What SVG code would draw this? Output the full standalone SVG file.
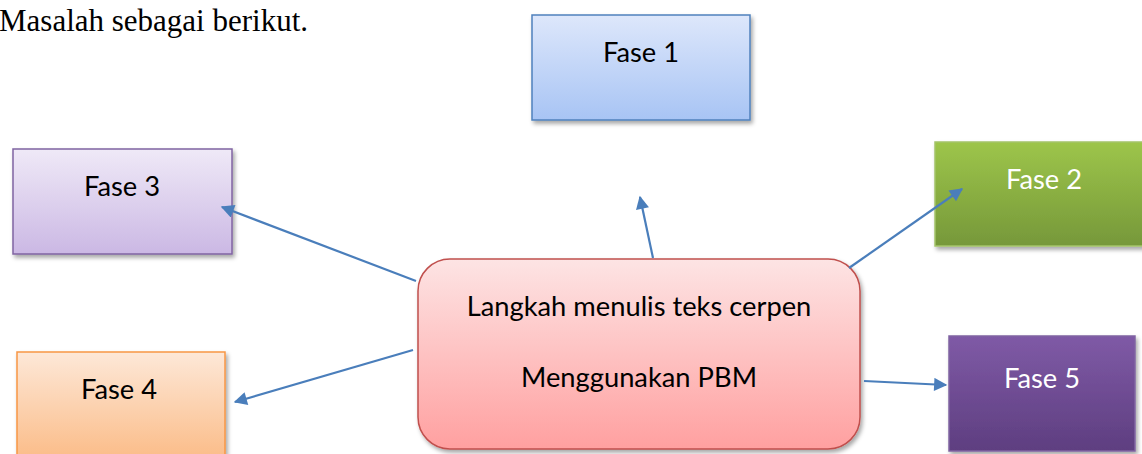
<svg xmlns="http://www.w3.org/2000/svg" width="1142" height="454" viewBox="0 0 1142 454">
<defs>
<style>
.lbl{font-family:Lato,"Open Sans","Liberation Sans",sans-serif;font-size:27.3px;text-anchor:middle}
.conn{stroke:#4a7ebb;stroke-width:2.2;fill:none;marker-end:url(#ah)}
</style>
<marker id="ah" viewBox="0 0 10 10" refX="9" refY="5" markerWidth="7" markerHeight="6" orient="auto" markerUnits="strokeWidth">
<path d="M0,0 L10,5 L0,10 z" fill="#4a7ebb"/>
</marker>
<filter id="sh" x="-10%" y="-10%" width="130%" height="130%">
<feDropShadow dx="2" dy="3" stdDeviation="2" flood-color="#000" flood-opacity="0.35"/>
</filter>
<linearGradient id="g1" x1="0" y1="0" x2="0" y2="1"><stop offset="0" stop-color="#dde7fb"/><stop offset="1" stop-color="#a8c4f4"/></linearGradient>
<linearGradient id="g2" x1="0" y1="0" x2="0" y2="1"><stop offset="0" stop-color="#9dc54a"/><stop offset="1" stop-color="#76983a"/></linearGradient>
<linearGradient id="g3" x1="0" y1="0" x2="0" y2="1"><stop offset="0" stop-color="#efe9f7"/><stop offset="1" stop-color="#cbb8e4"/></linearGradient>
<linearGradient id="g4" x1="0" y1="0" x2="0" y2="1"><stop offset="0" stop-color="#fde8d8"/><stop offset="1" stop-color="#fbbb86"/></linearGradient>
<linearGradient id="g5" x1="0" y1="0" x2="0" y2="1"><stop offset="0" stop-color="#7f5aa6"/><stop offset="1" stop-color="#5e3e80"/></linearGradient>
<linearGradient id="gc" x1="0" y1="0" x2="0" y2="1"><stop offset="0" stop-color="#fde4e4"/><stop offset="1" stop-color="#ffa0a0"/></linearGradient>
</defs>
<rect width="1142" height="454" fill="#fff"/>
<text x="-1" y="31" font-family="'Liberation Serif',serif" font-size="31" fill="#000">Masalah sebagai berikut.</text>

<g id="fase1">
<rect x="532" y="15" width="218" height="105" fill="url(#g1)" stroke="#4f81bd" stroke-width="1.5" filter="url(#sh)"/>
<text class="lbl" x="641" y="62" fill="#000">Fase 1</text>
</g>
<g id="fase2">
<rect x="935" y="142" width="212" height="104" fill="url(#g2)" stroke="#a4c46a" stroke-width="1.5" filter="url(#sh)"/>
<text class="lbl" x="1044" y="189" fill="#fff">Fase 2</text>
</g>
<g id="fase3">
<rect x="13" y="149" width="219" height="105" fill="url(#g3)" stroke="#8064a2" stroke-width="1.5" filter="url(#sh)"/>
<text class="lbl" x="122" y="196" fill="#000">Fase 3</text>
</g>
<g id="fase4">
<rect x="17" y="352" width="208" height="110" fill="url(#g4)" stroke="#f79646" stroke-width="1.5" filter="url(#sh)"/>
<text class="lbl" x="119" y="399" fill="#000">Fase 4</text>
</g>
<g id="fase5">
<rect x="949" y="336" width="186" height="115" fill="url(#g5)" stroke="#8064a2" stroke-width="1.5" filter="url(#sh)"/>
<text class="lbl" x="1042" y="388" fill="#fff">Fase 5</text>
</g>
<g id="central">
<rect x="418" y="259" width="442" height="190" rx="32" ry="32" fill="url(#gc)" stroke="#c0504d" stroke-width="1.5" filter="url(#sh)"/>
<text class="lbl" x="639" y="316" fill="#000">Langkah menulis teks cerpen</text>
<text class="lbl" x="639" y="387" fill="#000">Menggunakan PBM</text>
</g>

<g id="connectors">
<line class="conn" x1="653" y1="258" x2="640" y2="197"/>
<line class="conn" x1="849" y1="268" x2="962" y2="189"/>
<line class="conn" x1="416" y1="281" x2="222" y2="207"/>
<line class="conn" x1="413" y1="350" x2="235" y2="402"/>
<line class="conn" x1="864" y1="381" x2="946" y2="385"/>
</g>
</svg>
